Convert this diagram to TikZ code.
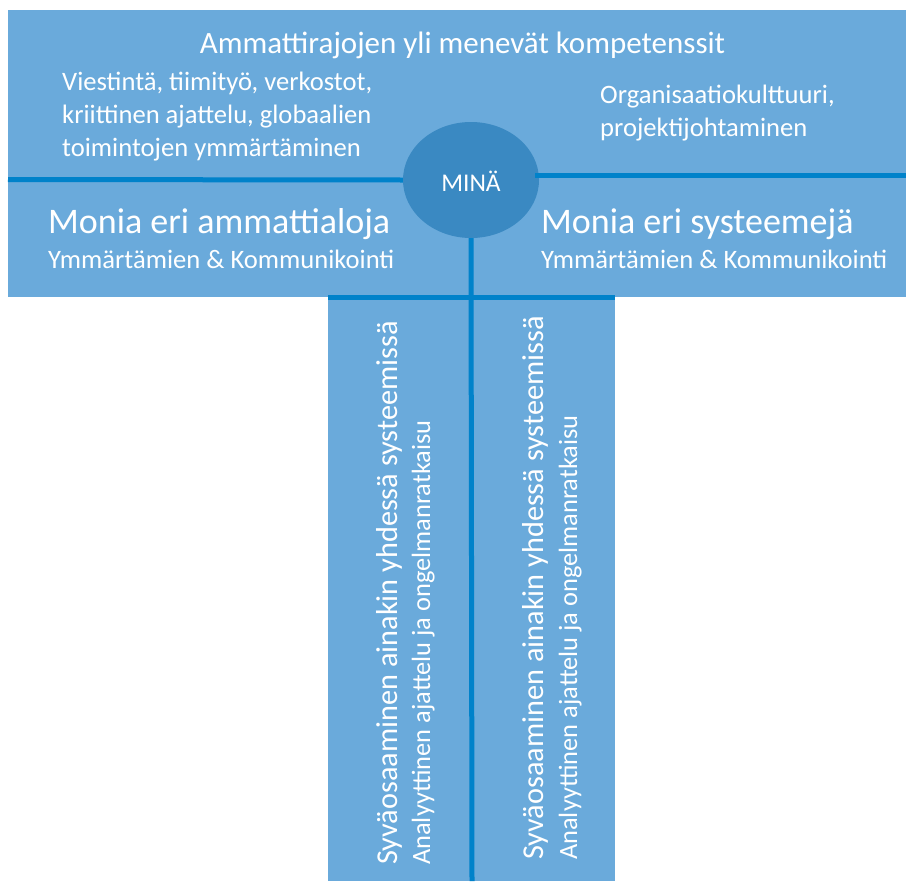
\documentclass[tikz,border=0pt]{standalone}
\usepackage{fontspec}
\setmainfont{Carlito}
\usetikzlibrary{shapes.geometric}
\definecolor{boxblue}{RGB}{106,170,219}
\definecolor{lineblue}{RGB}{0,130,202}
\definecolor{mineblue}{RGB}{58,137,194}
\begin{document}
\begin{tikzpicture}[x=1pt, y=-1pt,
    divider/.style={lineblue, line width=5pt},
    txt/.style={white, inner sep=0pt, anchor=base west},
    small/.style={txt, font=\fontsize{26.6}{26.6}\selectfont},
    big/.style={txt, font=\fontsize{36}{36}\selectfont},
    vtxt/.style={white, inner sep=0pt, rotate=90, anchor=base west}]
    \useasboundingbox (0,0) rectangle (910,881);
    \fill[boxblue] (8,10) rectangle (906,297);
    \fill[boxblue] (328,297) rectangle (615,881);
    \node[ellipse, fill=mineblue, minimum width=136pt, minimum height=116pt, inner sep=0pt] (mina) at (471,180) {};
    \node[txt, anchor=base, font=\fontsize{25.5}{25.5}\selectfont] (minatxt) at (471,191) {MINÄ};
    \coordinate (leftend) at (8,179.5);
    \coordinate (rightstart) at (535,175.5);
    \coordinate (rightend) at (906,175.5);
    \coordinate (stemend) at (472,881);
    \draw[divider] (leftend) -- (mina.west);
    \draw[divider] (rightstart) -- (rightend);
    \draw[divider] (mina.south) -- (stemend);
    \draw[divider] (328,297) -- (615,297);
    \node[txt, anchor=base, font=\fontsize{31}{31}\selectfont] (otsikko) at (462.5,53) {Ammattirajojen yli menevät kompetenssit};
    \node[small] (vasen1) at (62,90) {Viestintä, tiimityö, verkostot,};
    \node[small] (vasen2) at (62,123) {kriittinen ajattelu, globaalien};
    \node[small] (vasen3) at (62,156) {toimintojen ymmärtäminen};
    \node[small] (oikea1) at (600,103) {Organisaatiokulttuuri,};
    \node[small] (oikea2) at (600,136) {projektijohtaminen};
    \node[big] (ammattialat) at (48,233) {Monia eri ammattialoja};
    \node[small] (ammattialatala) at (48,268) {Ymmärtämien \& Kommunikointi};
    \node[big] (systeemit) at (541,233) {Monia eri systeemejä};
    \node[small] (systeemitala) at (541,268) {Ymmärtämien \& Kommunikointi};
    \node[vtxt, font=\fontsize{30.3}{30.3}\selectfont] (syvavasen) at (397,865) {Syväosaaminen ainakin yhdessä systeemissä};
    \node[vtxt, font=\fontsize{26.4}{26.4}\selectfont] (analyysivasen) at (430,865) {Analyyttinen ajattelu ja ongelmanratkaisu};
    \node[vtxt, font=\fontsize{30.3}{30.3}\selectfont] (syvaoikea) at (543,860) {Syväosaaminen ainakin yhdessä systeemissä};
    \node[vtxt, font=\fontsize{26.4}{26.4}\selectfont] (analyysioikea) at (577,860) {Analyyttinen ajattelu ja ongelmanratkaisu};
\end{tikzpicture}
\end{document}
